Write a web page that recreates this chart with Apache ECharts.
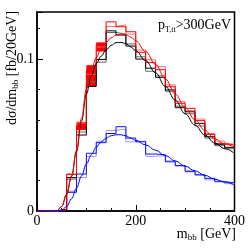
<!DOCTYPE html>
<html><head><meta charset="utf-8">
<script src="https://cdn.jsdelivr.net/npm/echarts@6/dist/echarts.min.js"></script>
<style>html,body{margin:0;padding:0;background:#fff}#c{width:248px;height:249px}</style>
</head><body><div id="c"></div>
<script>
// bin lower edges (GeV), 20 GeV bins
const binEdges = [0,20,40,60,80,100,120,140,160,180,200,220,240,260,280,300,320,340,360,380];
const binUpper = 400;
const redHist   = [0,0,0.001,0.024,0.056,0.093,0.110,0.1245,0.1213,0.118,0.1045,0.0978,0.093,0.0818,0.0709,0.0676,0.0595,0.0504,0.0445,0.0434];
const pinkHist  = [0,0,0.001,0.0245,0.058,0.090,0.108,0.1215,0.1225,0.1165,0.106,0.0995,0.095,0.083,0.072,0.066,0.0605,0.051,0.046,0.0442];
const blackHist = [0,0,0.001,0.022,0.050,0.082,0.0998,0.1186,0.1158,0.1086,0.1,0.094,0.088,0.079,0.068,0.0653,0.0577,0.0489,0.0439,0.0419];
const greyHist  = [0,0,0.0012,0.021,0.052,0.085,0.098,0.1175,0.1165,0.110,0.1015,0.092,0.089,0.080,0.069,0.064,0.056,0.048,0.043,0.041];
const blueHist  = [0,0,0.001,0.0123,0.0243,0.038,0.045,0.051,0.0555,0.048,0.0456,0.0375,0.037,0.0324,0.030,0.0259,0.0237,0.0215,0.0193,0.0186];
const lavHist   = [0,0,0.0012,0.013,0.022,0.036,0.046,0.053,0.054,0.0455,0.046,0.036,0.0365,0.033,0.0295,0.0265,0.024,0.0205,0.0195,0.018];
// red uncertainty boxes: [lowEdge, highEdge, low, high]
const redBoxes = [[80,100,0.0533,0.0587],[100,120,0.082,0.096],[120,140,0.105,0.111]];
// smooth fit curves
const curveM     = [0,40,50,60,70,80,90,100,110,120,130,140,150,160,170,180,190,200,220,240,260,280,300,320,340,360,380,400];
const blackCurve = [0,0,0.003,0.011,0.023,0.039,0.059,0.077,0.089,0.097,0.102,0.106,0.109,0.1108,0.111,0.1102,0.108,0.1055,0.099,0.091,0.082,0.073,0.064,0.0565,0.050,0.0448,0.041,0.038];
const redCurve   = [0,0,0.003,0.011,0.023,0.040,0.061,0.080,0.093,0.101,0.107,0.111,0.114,0.1158,0.1165,0.116,0.1145,0.112,0.105,0.0965,0.087,0.077,0.068,0.060,0.053,0.0475,0.044,0.042];
const blueCurve  = [0,0,0.0005,0.003,0.008,0.015,0.023,0.031,0.037,0.042,0.0455,0.048,0.0495,0.0502,0.0502,0.0495,0.048,0.0465,0.0435,0.040,0.0365,0.033,0.0295,0.0265,0.0235,0.021,0.019,0.0171];
const xTicks = [0,200,400];
const yTicks = [0,0.1];

function stepData(h){ const d = binEdges.map((e,i)=>[e,h[i]]); d.push([binUpper,h[h.length-1]]); return d; }
function curveData(c){ return curveM.map((m,i)=>[m,c[i]]); }
function hist(name,h,color){ return {name,type:'line',step:'end',data:stepData(h),symbol:'none',lineStyle:{color,width:1},z:2,silent:true}; }
function curve(name,c,color){ return {name,type:'line',smooth:0.4,smoothMonotone:'x',data:curveData(c),symbol:'none',lineStyle:{color,width:1},z:4,silent:true}; }

const font = 'Liberation Serif';
const chart = echarts.init(document.getElementById('c'));
chart.setOption({
  animation:false,
  grid:{left:37,top:12,right:12,bottom:38,show:true,borderColor:'#000',borderWidth:1.5},
  xAxis:{type:'value',min:0,max:400,interval:200,
    axisLine:{lineStyle:{color:'#000',width:1.5}},
    axisTick:{inside:true,length:6,lineStyle:{color:'#000'}},
    minorTick:{show:true,splitNumber:4,length:3,lineStyle:{color:'#000'}},
    splitLine:{show:false},
    axisLabel:{color:'#000',fontFamily:font,fontSize:14,margin:3,formatter:v=>xTicks.includes(v)?String(v):''}},
  yAxis:{type:'value',min:0,max:0.131,interval:0.1,
    axisLine:{show:true,lineStyle:{color:'#000',width:1.5}},
    axisTick:{show:true,inside:true,length:6,lineStyle:{color:'#000'}},
    minorTick:{show:true,splitNumber:5,length:3,lineStyle:{color:'#000'}},
    splitLine:{show:false},
    axisLabel:{color:'#000',fontFamily:font,fontSize:14,margin:3,showMaxLabel:false,formatter:v=>yTicks.includes(v)?String(v):''}},
  series:[
    {type:'custom',z:1,silent:true,data:redBoxes,renderItem:(p,api)=>{
      const a=api.coord([api.value(0),api.value(3)]), b=api.coord([api.value(1),api.value(2)]);
      return {type:'rect',shape:{x:a[0],y:a[1],width:b[0]-a[0],height:b[1]-a[1]},style:{fill:'#ff0000'}};
    }},
    hist('lav',lavHist,'#9a9aff'),
    hist('pink',pinkHist,'#ff7070'),
    hist('grey',greyHist,'#666666'),
    hist('blue',blueHist,'#1010ff'),
    hist('black',blackHist,'#000000'),
    hist('red',redHist,'#ff0000'),
    curve('blackfit',blackCurve,'#000000'),
    curve('redfit',redCurve,'#ff0000'),
    curve('bluefit',blueCurve,'#0000ff')
  ],
  graphic:[
    {type:'text',x:13,y:68,rotation:Math.PI/2,style:{
      text:'{m|dσ/dm}{s|bb}{m| [fb/20GeV]}',align:'center',verticalAlign:'middle',
      rich:{m:{fontFamily:font,fontSize:14,lineHeight:15,verticalAlign:'top',fill:'#000'},
            s:{fontFamily:font,fontSize:9,lineHeight:10,padding:[7,0,0,0],verticalAlign:'bottom',fill:'#000'}}}},
    {type:'text',x:236,y:235,style:{
      text:'{m|m}{s|bb}{m| [GeV]}',align:'right',verticalAlign:'middle',
      rich:{m:{fontFamily:font,fontSize:14,lineHeight:15,verticalAlign:'top',fill:'#000'},
            s:{fontFamily:font,fontSize:9,lineHeight:10,padding:[7,0,0,0],verticalAlign:'bottom',fill:'#000'}}}},
    {type:'text',x:231,y:26,style:{
      text:'{m|p}{s|T,tt}{m|>300GeV}',align:'right',verticalAlign:'middle',
      rich:{m:{fontFamily:font,fontSize:14,lineHeight:15,verticalAlign:'top',fill:'#000'},
            s:{fontFamily:font,fontSize:8,lineHeight:9,padding:[7,0,0,0],verticalAlign:'bottom',fill:'#000'}}}}
  ]
});
</script></body></html>
